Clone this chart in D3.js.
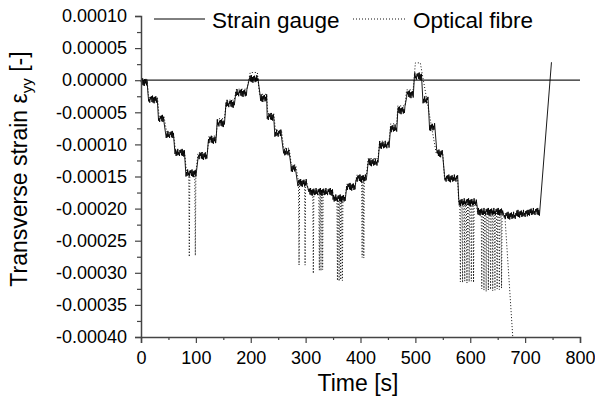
<!DOCTYPE html>
<html>
<head>
<meta charset="utf-8">
<script src="https://cdn.jsdelivr.net/npm/d3@7"></script>
<style>
  body { margin: 0; background: #fff; }
  text { font-family: "Liberation Sans", Arial, sans-serif; fill: #000; }
</style>
</head>
<body>
<div id="chart"></div>
<script>
// strain gauge: plateaus (start / end time in s, level in microstrain)
const gaugeStart = [0, 13, 32, 46, 62, 82, 104, 123, 139, 155, 173, 199, 217, 230, 244, 259, 273, 286, 305, 350, 375, 393, 414, 435, 455, 468, 484, 498, 514, 526, 539, 553, 579, 613, 662, 685, 706, 748];
const gaugeEnd   = [11, 30, 42, 59, 79, 100, 121, 137, 152, 170, 193, 213, 229, 242, 256, 270, 282, 302, 349, 372, 391, 411, 432, 452, 466, 481, 496, 511, 523, 535, 550, 577, 611, 659, 684, 705, 726, 748];
const gaugeLevel = [-3, -30, -60, -85, -113, -145, -118, -93, -67, -37, -20, 2, -28, -57, -83, -112, -137, -160, -174, -184, -166, -153, -128, -101, -75, -47, -22, 6, -31, -73, -114, -153, -190, -205, -211, -208, -205, 28];

// jitter seen on the gauge plateaus (microstrain)
const gaugeRipple = [0, 5, -4, 6, -5, 3, -6, 4, -2, 5, -5, 2, -4, 6, -3, 1, -5, 4];

// optical fibre: plateaus
const fibreStart = [0, 14, 33, 47, 63, 83, 104, 124, 140, 156, 174, 199, 216, 231, 245, 260, 274, 287, 305, 350, 375, 393, 414, 435, 455, 468, 484, 500, 538, 553, 579, 613, 663, 679];
const fibreEnd   = [11, 30, 42, 59, 79, 100, 121, 137, 152, 170, 193, 212, 229, 242, 256, 270, 282, 302, 349, 372, 391, 411, 432, 452, 466, 481, 496, 509, 550, 577, 611, 659, 663, 679];
const fibreLevel = [1, -27, -57, -82, -110, -143, -113, -87, -60, -31, -14, 12, -22, -52, -78, -106, -132, -158, -172, -182, -162, -148, -122, -95, -68, -40, -15, 27, -114, -153, -190, -205, -210, -420];

// optical fibre: downward spikes (time in s, bottom in microstrain)
const spikeTime   = [88, 99, 288, 299, 314, 325, 328, 331, 358, 361, 364, 367, 403, 406, 582, 586, 590, 594, 598, 602, 606, 621, 625, 629, 633, 637, 641, 645, 649, 653, 657];
const spikeStrain = [-275, -273, -288, -288, -301, -296, -297, -295, -312, -313, -311, -312, -276, -277, -314, -315, -313, -316, -314, -313, -315, -325, -327, -329, -327, -326, -328, -327, -325, -326, -324];

// axis ticks
const xTicks = [0, 100, 200, 300, 400, 500, 600, 700, 800];
const xMinor = [50, 150, 250, 350, 450, 550, 650, 750];
const yTicks = [0.0001, 0.00005, 0, -0.00005, -0.0001, -0.00015, -0.0002, -0.00025, -0.0003, -0.00035, -0.0004];
const yTickLabels = ["0.00010", "0.00005", "0.00000", "-0.00005", "-0.00010", "-0.00015", "-0.00020", "-0.00025", "-0.00030", "-0.00035", "-0.00040"];
const yMinor = [0.000075, 0.000025, -0.000025, -0.000075, -0.000125, -0.000175, -0.000225, -0.000275, -0.000325, -0.000375];

const width = 595, height = 403;
const margin = {top: 16, right: 15, bottom: 66, left: 141};

const svg = d3.select("#chart")
  .append("svg")
    .attr("width", width)
    .attr("height", height);

const x = d3.scaleLinear()
  .domain([0, 800])
  .range([margin.left, width - margin.right]);

const y = d3.scaleLinear()
  .domain([-0.0004, 0.0001])
  .range([height - margin.bottom, margin.top]);

const ue = 1e-6;

// build gauge points
let gauge = [];
gaugeStart.forEach(function(s, i) {
  if (gaugeEnd[i] > s + 1) {
    for (let t = s; t <= gaugeEnd[i]; t++) {
      gauge.push([t, (gaugeLevel[i] + gaugeRipple[t % gaugeRipple.length]) * ue]);
    }
  } else {
    gauge.push([s, gaugeLevel[i] * ue]);
  }
});

// build fibre points with spikes
let fibre = [];
fibreStart.forEach(function(s, i) {
  let lvl = fibreLevel[i] * ue;
  fibre.push([s, lvl]);
  spikeTime.forEach(function(t, k) {
    if (t >= s && t <= fibreEnd[i]) {
      fibre.push([t - 1, lvl]);
      fibre.push([t, spikeStrain[k] * ue]);
      fibre.push([t + 1, lvl]);
    }
  });
  if (fibreEnd[i] > s) fibre.push([fibreEnd[i], lvl]);
});

svg.append("clipPath")
    .attr("id", "plot")
  .append("rect")
    .attr("x", margin.left)
    .attr("y", margin.top)
    .attr("width", width - margin.left - margin.right)
    .attr("height", height - margin.top - margin.bottom);

const line = d3.line()
  .x(d => x(d[0]))
  .y(d => y(d[1]));

// zero line
svg.append("line")
  .attr("x1", x(0)).attr("x2", x(800))
  .attr("y1", y(0)).attr("y2", y(0))
  .attr("stroke", "#222")
  .attr("stroke-width", 1.2);

// optical fibre (dotted)
svg.append("path")
  .datum(fibre)
  .attr("clip-path", "url(#plot)")
  .attr("d", line)
  .attr("fill", "none")
  .attr("stroke", "#111")
  .attr("stroke-width", 1)
  .attr("stroke-dasharray", "1,2");

// strain gauge (solid)
svg.append("path")
  .datum(gauge)
  .attr("d", line)
  .attr("fill", "none")
  .attr("stroke", "#000")
  .attr("stroke-width", 0.9);

// axes
svg.append("g")
  .attr("transform", "translate(0," + (height - margin.bottom) + ")")
  .call(d3.axisBottom(x).tickValues(xTicks).tickSize(6).tickPadding(8).tickFormat(d3.format("d")));

svg.append("g")
  .attr("transform", "translate(0," + (height - margin.bottom) + ")")
  .call(d3.axisBottom(x).tickValues(xMinor).tickSize(3).tickFormat(""))
  .select(".domain").remove();

svg.append("g")
  .attr("transform", "translate(" + margin.left + ",0)")
  .call(d3.axisLeft(y).tickValues(yTicks).tickSize(6).tickPadding(8)
    .tickFormat((d, i) => yTickLabels[i]));

svg.append("g")
  .attr("transform", "translate(" + margin.left + ",0)")
  .call(d3.axisLeft(y).tickValues(yMinor).tickSize(4).tickFormat(""))
  .select(".domain").remove();

svg.selectAll(".domain").attr("stroke", "#444").attr("stroke-width", 1.5);
svg.selectAll(".tick line").attr("stroke", "#444").attr("stroke-width", 1.2);
svg.selectAll(".tick text")
  .attr("font-size", 18)
  .attr("font-family", "Liberation Sans, Arial, sans-serif")
  .attr("fill", "#000");

// axis titles
svg.append("text")
  .attr("x", 358)
  .attr("y", 391)
  .attr("text-anchor", "middle")
  .attr("font-size", 23)
  .text("Time [s]");

const ylab = svg.append("text")
  .attr("transform", "translate(27,169) rotate(-90)")
  .attr("text-anchor", "middle")
  .attr("font-size", 23);
ylab.append("tspan").text("Transverse strain ε");
ylab.append("tspan").attr("font-size", 15).attr("dy", 5).text("yy");
ylab.append("tspan").attr("dy", -5).text(" [-]");

// legend
svg.append("line")
  .attr("x1", 154).attr("x2", 205).attr("y1", 19).attr("y2", 19)
  .attr("stroke", "#000").attr("stroke-width", 1);
svg.append("text")
  .attr("x", 212).attr("y", 28)
  .attr("font-size", 22.5)
  .text("Strain gauge");
svg.append("line")
  .attr("x1", 353).attr("x2", 405).attr("y1", 19).attr("y2", 19)
  .attr("stroke", "#111").attr("stroke-width", 1)
  .attr("stroke-dasharray", "1,2");
svg.append("text")
  .attr("x", 413).attr("y", 28)
  .attr("font-size", 22.5)
  .text("Optical fibre");
</script>
</body>
</html>
